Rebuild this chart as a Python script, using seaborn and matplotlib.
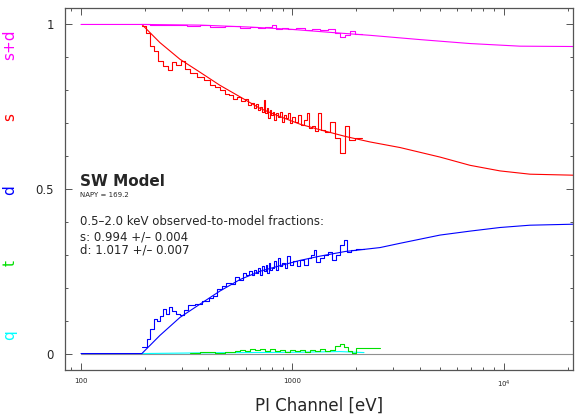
import matplotlib
matplotlib.use("Agg")
import pandas as pd
import matplotlib.pyplot as plt
import matplotlib.ticker as mticker
import seaborn as sns

# ---- data (energy in eV, fraction) ----
# model curves
sd_model_e = [100, 194, 365, 630, 995, 1504, 2325, 4008, 6906, 11906, 21200]
sd_model_v = [1.0, 1.0, 0.998, 0.992, 0.985, 0.976, 0.967, 0.954, 0.942, 0.934, 0.933]

s_model_e = [194, 236, 294, 365, 454, 565, 702, 873, 1085, 1349, 1771, 2325,
             3224, 4984, 6906, 9575, 13270, 21200]
s_model_v = [1.0, 0.945, 0.894, 0.855, 0.815, 0.78, 0.745, 0.72, 0.697, 0.68,
             0.66, 0.643, 0.626, 0.597, 0.572, 0.555, 0.545, 0.542]

d_model_e = [100, 194, 236, 294, 365, 454, 565, 702, 873, 1085, 1349, 1771,
             2593, 3224, 4984, 6906, 9575, 13270, 21200]
d_model_v = [0.0, 0.0, 0.055, 0.11, 0.15, 0.19, 0.225, 0.25, 0.267, 0.283,
             0.296, 0.31, 0.322, 0.335, 0.36, 0.372, 0.383, 0.39, 0.393]

q_model_e = [194, 365, 630, 1085, 1677, 1975, 2178]
q_model_v = [0.0, 0.002, 0.003, 0.004, 0.006, 0.004, 0.003]

zero_e = [100, 21200]
zero_v = [0.0, 0.0]

# observed fractions (left bin edges, last entry closes the final bin)
sd_obs_e = [194, 212, 264, 317, 365, 407, 480, 565, 630, 687, 741, 800, 836,
            892, 953, 1039, 1146, 1237, 1349, 1472, 1588, 1677, 1771, 1870,
            1975, 2131]
sd_obs_v = [1.0, 0.999, 0.998, 0.995, 0.997, 0.993, 0.995, 0.99, 0.993, 0.988,
            0.992, 0.997, 0.987, 0.99, 0.985, 0.988, 0.983, 0.985, 0.982,
            0.987, 0.975, 0.962, 0.968, 0.98, 0.97]

s_obs_e = [194, 203, 212, 221, 231, 244, 258, 269, 281, 297, 310, 328, 354,
           382, 407, 430, 454, 480, 501, 523, 547, 571, 596, 616, 637, 658,
           672, 687, 702, 718, 733, 741, 758, 766, 783, 792, 809, 818, 836,
           854, 873, 892, 912, 932, 953, 973, 995, 1027, 1062, 1097, 1134,
           1171, 1197, 1237, 1278, 1320, 1364, 1425, 1504, 1588, 1677, 1771,
           1850, 1975, 2131]
s_obs_v = [0.994, 0.975, 0.935, 0.92, 0.89, 0.875, 0.862, 0.885, 0.878, 0.89,
           0.865, 0.852, 0.84, 0.83, 0.815, 0.81, 0.80, 0.79, 0.785, 0.775,
           0.78, 0.768, 0.772, 0.755, 0.762, 0.745, 0.758, 0.74, 0.75, 0.735,
           0.77, 0.73, 0.745, 0.715, 0.74, 0.725, 0.735, 0.71, 0.73, 0.72,
           0.735, 0.705, 0.725, 0.715, 0.73, 0.70, 0.72, 0.705, 0.725, 0.695,
           0.71, 0.73, 0.685, 0.69, 0.675, 0.73, 0.68, 0.672, 0.705, 0.655,
           0.61, 0.69, 0.65, 0.655]

d_obs_e = [194, 205, 212, 221, 229, 236, 244, 252, 261, 269, 281, 294, 307,
           321, 346, 373, 403, 421, 440, 464, 485, 512, 535, 559, 584, 603,
           623, 644, 658, 672, 687, 702, 718, 733, 750, 758, 774, 783, 800,
           818, 836, 854, 873, 892, 922, 942, 973, 1005, 1050, 1085, 1134,
           1184, 1223, 1264, 1292, 1349, 1409, 1472, 1537, 1606, 1677, 1752,
           1810, 1891, 1996, 2178]
d_obs_v = [0.02, 0.045, 0.075, 0.105, 0.098, 0.115, 0.135, 0.12, 0.14, 0.128,
           0.12, 0.118, 0.132, 0.148, 0.152, 0.16, 0.17, 0.175, 0.195, 0.205,
           0.215, 0.21, 0.232, 0.225, 0.245, 0.24, 0.25, 0.238, 0.255, 0.245,
           0.26, 0.24, 0.265, 0.25, 0.27, 0.245, 0.275, 0.255, 0.26, 0.282,
           0.255, 0.29, 0.265, 0.275, 0.26, 0.295, 0.27, 0.28, 0.265, 0.285,
           0.27, 0.29, 0.30, 0.316, 0.278, 0.29, 0.30, 0.31, 0.285, 0.30,
           0.33, 0.345, 0.31, 0.315, 0.318]

t_obs_e = [328, 365, 430, 480, 535, 565, 596, 630, 665, 702, 741, 783, 827,
           873, 922, 973, 1027, 1085, 1146, 1210, 1278, 1349, 1425, 1504,
           1588, 1677, 1752, 1830, 1911, 1996, 2593]
t_obs_v = [0.002, 0.004, 0.003, 0.006, 0.008, 0.012, 0.008, 0.014, 0.010,
           0.015, 0.009, 0.013, 0.007, 0.011, 0.006, 0.012, 0.008, 0.010,
           0.006, 0.012, 0.009, 0.014, 0.008, 0.012, 0.024, 0.028, 0.020,
           0.008, 0.003, 0.018]

x_ticks = [100, 1000, 10000]
x_ticklabels = ["100", "1000", "$10^4$"]
y_ticks = [0, 0.5, 1]
y_ticklabels = ["0", "0.5", "1"]

MAGENTA = "#ff00ff"
RED = "#ff0000"
BLUE = "#0000ff"
GREEN = "#00e000"
CYAN = "#00ffff"


def curve(e, v):
    return pd.DataFrame({"energy": e, "frac": v})


def steps(edges, vals):
    # close the last bin by repeating its value at the final edge
    return pd.DataFrame({"energy": edges, "frac": list(vals) + [vals[-1]]})


sns.set_theme(style="ticks")
plt.rcParams["font.family"] = ["DejaVu Sans"]

fig = plt.figure(figsize=(5.75, 4.17), dpi=100)
ax = fig.add_axes([65 / 575, 1 - 370 / 417, 508 / 575, 362 / 417])
ax.set_xscale("log")

lw = 0.8
kw = dict(x="energy", y="frac", estimator=None, sort=False, ax=ax, lw=lw)

sns.lineplot(data=curve(zero_e, zero_v), color="#909090", **kw)
sns.lineplot(data=curve(q_model_e, q_model_v), color=CYAN, **kw)
sns.lineplot(data=steps(t_obs_e, t_obs_v), color=GREEN, drawstyle="steps-post", **kw)
sns.lineplot(data=curve(d_model_e, d_model_v), color=BLUE, **kw)
sns.lineplot(data=steps(d_obs_e, d_obs_v), color=BLUE, drawstyle="steps-post", **kw)
sns.lineplot(data=curve(s_model_e, s_model_v), color=RED, **kw)
sns.lineplot(data=steps(s_obs_e, s_obs_v), color=RED, drawstyle="steps-post", **kw)
sns.lineplot(data=curve(sd_model_e, sd_model_v), color=MAGENTA, **kw)
sns.lineplot(data=steps(sd_obs_e, sd_obs_v), color=MAGENTA, drawstyle="steps-post", **kw)

ax.set_xlim(84, 21200)
ax.set_ylim(-0.05, 1.05)

ax.xaxis.set_major_locator(mticker.FixedLocator(x_ticks))
ax.xaxis.set_major_formatter(mticker.FixedFormatter(x_ticklabels))
ax.xaxis.set_minor_locator(mticker.LogLocator(base=10, subs=range(2, 10)))
ax.xaxis.set_minor_formatter(mticker.NullFormatter())
ax.set_yticks(y_ticks)
ax.set_yticklabels(y_ticklabels)
ax.yaxis.set_minor_locator(mticker.MultipleLocator(0.1))

ax.tick_params(which="both", direction="in", top=True, right=True,
               color="#555555", width=0.7)
ax.tick_params(which="major", length=5)
ax.tick_params(which="minor", length=2.5)
ax.tick_params(axis="x", labelsize=5, pad=6)
ax.tick_params(axis="y", labelsize=8.5, pad=8)
for sp in ax.spines.values():
    sp.set_color("#555555")
    sp.set_linewidth(0.9)

ax.set_xlabel("PI Channel [eV]", fontsize=12, labelpad=5)
ax.set_ylabel("")

tx = 0.0295
ax.text(tx, 0.522, "SW Model", transform=ax.transAxes, fontsize=11,
        fontweight="bold", va="center", ha="left")
ax.text(tx, 0.484, "NAPY = 169.2", transform=ax.transAxes, fontsize=5,
        va="center", ha="left")
ax.text(tx, 0.409, "0.5\u20132.0 keV observed-to-model fractions:",
        transform=ax.transAxes, fontsize=8.5, va="center", ha="left")
ax.text(tx, 0.367, "s: 0.994 +/\u2013 0.004", transform=ax.transAxes,
        fontsize=8.5, va="center", ha="left")
ax.text(tx, 0.332, "d: 1.017 +/\u2013 0.007", transform=ax.transAxes,
        fontsize=8.5, va="center", ha="left")

# coloured side labels for each fraction
side = [("s+d", MAGENTA, 45), ("s", RED, 117), ("d", BLUE, 190),
        ("t", GREEN, 263), ("q", CYAN, 335)]
for lab, col, ypx in side:
    fig.text(10 / 575, 1 - ypx / 417, lab, color=col, fontsize=11,
             rotation=90, ha="center", va="center")

fig.savefig("out.png", dpi=100)
